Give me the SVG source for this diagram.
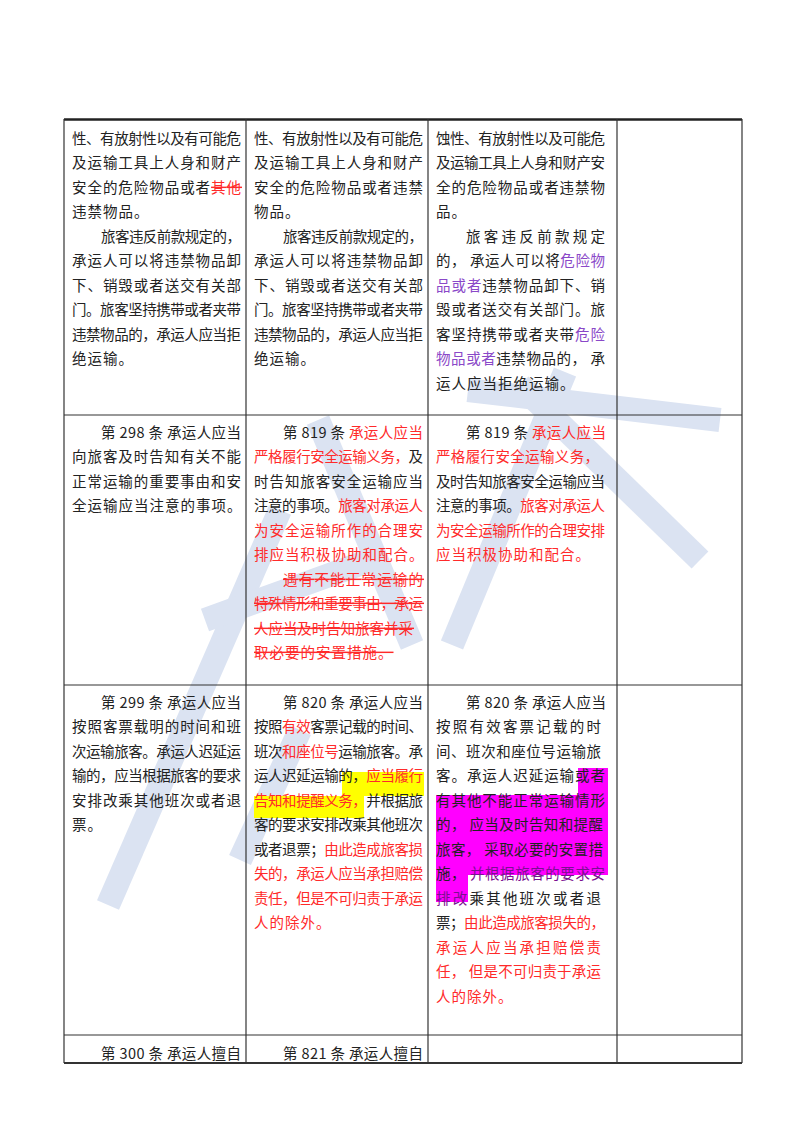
<svg xmlns="http://www.w3.org/2000/svg" width="800" height="1132" viewBox="0 0 800 1132">
<style>
text{font-family:"Noto Sans CJK SC","Noto Sans CJK JP",sans-serif;font-size:14.5px;fill:#222;letter-spacing:1px}
.r{fill:#ff2a2a}
.p{fill:#8a48c8}
.s{text-decoration:line-through}
.m{fill:#7a1090}
.wm{stroke:#dbe3f2;stroke-width:24;fill:none;stroke-linecap:butt}
.g{stroke:#333;stroke-width:1.2}
</style>
<rect width="800" height="1132" fill="#fff"/>
<g id="watermark">
<line class="wm" x1="280" y1="510" x2="108" y2="905"/>
<line class="wm" x1="205" y1="620" x2="385" y2="555"/>
<line class="wm" x1="318" y1="420" x2="412" y2="645"/>
<line class="wm" x1="565" y1="372" x2="452" y2="645"/>
<line class="wm" x1="468" y1="390" x2="720" y2="420"/>
<line class="wm" x1="520" y1="385" x2="700" y2="560"/>
<line class="wm" x1="300" y1="730" x2="240" y2="860"/>
</g>
<g id="highlights">
<rect x="342" y="772" width="82" height="24" fill="#ffff00"/>
<rect x="254" y="796" width="110" height="22" fill="#ffff00"/>
<rect x="578" y="768" width="30" height="27" fill="#ff00ff"/>
<rect x="436" y="795" width="172" height="80" fill="#ff00ff"/>
<rect x="436" y="875" width="32" height="27" fill="#ff00ff"/>
</g>
<g id="grid">
<line x1="64" y1="119.5" x2="742" y2="119.5" stroke="#222" stroke-width="2.5"/>
<line class="g" x1="64" y1="119" x2="64" y2="1063"/>
<line class="g" x1="246" y1="119" x2="246" y2="1063"/>
<line class="g" x1="428" y1="119" x2="428" y2="1063"/>
<line class="g" x1="617" y1="119" x2="617" y2="1063"/>
<line class="g" x1="742" y1="119" x2="742" y2="1063"/>
<line class="g" x1="64" y1="415" x2="742" y2="415"/>
<line class="g" x1="64" y1="685" x2="742" y2="685"/>
<line class="g" x1="64" y1="1035" x2="742" y2="1035"/>
<line x1="64" y1="1063" x2="742" y2="1063" stroke="#333" stroke-width="2"/>
</g>
<g id="c11">
<text x="72" y="144" textLength="170" lengthAdjust="spacing">性、有放射性以及有可能危</text>
<text x="72" y="168" textLength="170" lengthAdjust="spacing">及运输工具上人身和财产</text>
<text x="72" y="193" textLength="170" lengthAdjust="spacing">安全的危险物品或者<tspan class="r s">其他</tspan></text>
<text x="72" y="217">违禁物品。</text>
<text x="101" y="242" textLength="141" lengthAdjust="spacing">旅客违反前款规定的，</text>
<text x="72" y="266" textLength="170" lengthAdjust="spacing">承运人可以将违禁物品卸</text>
<text x="72" y="291" textLength="170" lengthAdjust="spacing">下、销毁或者送交有关部</text>
<text x="72" y="315" textLength="170" lengthAdjust="spacing">门。旅客坚持携带或者夹带</text>
<text x="72" y="340" textLength="170" lengthAdjust="spacing">违禁物品的，承运人应当拒</text>
<text x="72" y="364">绝运输。</text>
</g>
<g id="c12">
<text x="254" y="144" textLength="170" lengthAdjust="spacing">性、有放射性以及有可能危</text>
<text x="254" y="168" textLength="170" lengthAdjust="spacing">及运输工具上人身和财产</text>
<text x="254" y="193" textLength="170" lengthAdjust="spacing">安全的危险物品或者违禁</text>
<text x="254" y="217">物品。</text>
<text x="283" y="242" textLength="141" lengthAdjust="spacing">旅客违反前款规定的，</text>
<text x="254" y="266" textLength="170" lengthAdjust="spacing">承运人可以将违禁物品卸</text>
<text x="254" y="291" textLength="170" lengthAdjust="spacing">下、销毁或者送交有关部</text>
<text x="254" y="315" textLength="170" lengthAdjust="spacing">门。旅客坚持携带或者夹带</text>
<text x="254" y="340" textLength="170" lengthAdjust="spacing">违禁物品的，承运人应当拒</text>
<text x="254" y="364">绝运输。</text>
</g>
<g id="c13">
<text x="436" y="144" textLength="170" lengthAdjust="spacing">蚀性、有放射性以及可能危</text>
<text x="436" y="168" textLength="170" lengthAdjust="spacing">及运输工具上人身和财产安</text>
<text x="436" y="193" textLength="170" lengthAdjust="spacing">全的危险物品或者违禁物</text>
<text x="436" y="217">品。</text>
<text x="466" y="242" textLength="140" lengthAdjust="spacing">旅客违反前款规定</text>
<text x="436" y="266" textLength="170" lengthAdjust="spacing">的， 承运人可以将<tspan class="p">危险物</tspan></text>
<text x="436" y="291" textLength="170" lengthAdjust="spacing"><tspan class="p">品或者</tspan>违禁物品卸下、销</text>
<text x="436" y="315" textLength="170" lengthAdjust="spacing">毁或者送交有关部门。旅</text>
<text x="436" y="340" textLength="170" lengthAdjust="spacing">客坚持携带或者夹带<tspan class="p">危险</tspan></text>
<text x="436" y="364" textLength="170" lengthAdjust="spacing"><tspan class="p">物品或者</tspan>违禁物品的， 承</text>
<text x="436" y="389">运人应当拒绝运输。</text>
</g>
<g id="c21">
<text x="101" y="438" textLength="141" lengthAdjust="spacing">第 298 条 承运人应当</text>
<text x="72" y="462" textLength="170" lengthAdjust="spacing">向旅客及时告知有关不能</text>
<text x="72" y="487" textLength="170" lengthAdjust="spacing">正常运输的重要事由和安</text>
<text x="72" y="511">全运输应当注意的事项。</text>
</g>
<g id="c22">
<text x="283" y="438" textLength="141" lengthAdjust="spacing">第 819 条 <tspan class="r">承运人应当</tspan></text>
<text x="254" y="462" textLength="170" lengthAdjust="spacing"><tspan class="r">严格履行安全运输义务，</tspan>及</text>
<text x="254" y="487" textLength="170" lengthAdjust="spacing">时告知旅客安全运输应当</text>
<text x="254" y="511" textLength="170" lengthAdjust="spacing">注意的事项。<tspan class="r">旅客对承运人</tspan></text>
<text x="254" y="536" textLength="170" lengthAdjust="spacing" class="r">为安全运输所作的合理安</text>
<text x="254" y="560" class="r">排应当积极协助和配合。</text>
<text x="283" y="585" textLength="141" lengthAdjust="spacing" class="r s">遇有不能正常运输的</text>
<text x="254" y="609" textLength="170" lengthAdjust="spacing" class="r s">特殊情形和重要事由，承运</text>
<text x="254" y="634" textLength="160" lengthAdjust="spacing" class="r s">人应当及时告知旅客并采</text>
<text x="254" y="658" class="r s">取必要的安置措施。</text>
</g>
<g id="c23">
<text x="466" y="438" textLength="141" lengthAdjust="spacing">第 819 条 <tspan class="r">承运人应当</tspan></text>
<text x="436" y="462" textLength="164" lengthAdjust="spacing" class="r">严格履行安全运输义务，</text>
<text x="436" y="487" textLength="170" lengthAdjust="spacing">及时告知旅客安全运输应当</text>
<text x="436" y="511" textLength="170" lengthAdjust="spacing">注意的事项。<tspan class="r">旅客对承运人</tspan></text>
<text x="436" y="536" textLength="170" lengthAdjust="spacing" class="r">为安全运输所作的合理安排</text>
<text x="436" y="560" class="r">应当积极协助和配合。</text>
</g>
<g id="c31">
<text x="101" y="708" textLength="141" lengthAdjust="spacing">第 299 条 承运人应当</text>
<text x="72" y="732" textLength="170" lengthAdjust="spacing">按照客票载明的时间和班</text>
<text x="72" y="757" textLength="170" lengthAdjust="spacing">次运输旅客。承运人迟延运</text>
<text x="72" y="781" textLength="170" lengthAdjust="spacing">输的，应当根据旅客的要求</text>
<text x="72" y="806" textLength="170" lengthAdjust="spacing">安排改乘其他班次或者退</text>
<text x="72" y="830">票。</text>
</g>
<g id="c32">
<text x="283" y="708" textLength="141" lengthAdjust="spacing">第 820 条 承运人应当</text>
<text x="254" y="732" textLength="170" lengthAdjust="spacing">按照<tspan class="r">有效</tspan>客票记载的时间、</text>
<text x="254" y="757" textLength="170" lengthAdjust="spacing">班次<tspan class="r">和座位号</tspan>运输旅客。承</text>
<text x="254" y="781" textLength="170" lengthAdjust="spacing">运人迟延运输的，<tspan class="r">应当履行</tspan></text>
<text x="254" y="806" textLength="170" lengthAdjust="spacing"><tspan class="r">告知和提醒义务，</tspan>并根据旅</text>
<text x="254" y="830" textLength="170" lengthAdjust="spacing">客的要求安排改乘其他班次</text>
<text x="254" y="855" textLength="170" lengthAdjust="spacing">或者退票；<tspan class="r">由此造成旅客损</tspan></text>
<text x="254" y="879" textLength="170" lengthAdjust="spacing" class="r">失的，承运人应当承担赔偿</text>
<text x="254" y="904" textLength="170" lengthAdjust="spacing" class="r">责任，但是不可归责于承运</text>
<text x="254" y="928" class="r">人的除外。</text>
</g>
<g id="c33">
<text x="466" y="708" textLength="141" lengthAdjust="spacing">第 820 条 承运人应当</text>
<text x="436" y="732" textLength="166" lengthAdjust="spacing">按照有效客票记载的时</text>
<text x="436" y="757" textLength="166" lengthAdjust="spacing">间、班次和座位号运输旅</text>
<text x="436" y="781" textLength="170" lengthAdjust="spacing">客。承运人迟延运输或者</text>
<text x="436" y="806" textLength="170" lengthAdjust="spacing">有其他不能正常运输情形</text>
<text x="436" y="830" textLength="168" lengthAdjust="spacing">的， 应当及时告知和提醒</text>
<text x="436" y="855" textLength="168" lengthAdjust="spacing">旅客， 采取必要的安置措</text>
<text x="436" y="879" textLength="170" lengthAdjust="spacing">施， <tspan class="m">并根据旅客的要求安</tspan></text>
<text x="436" y="904" textLength="166" lengthAdjust="spacing"><tspan class="m">排改</tspan>乘其他班次或者退</text>
<text x="436" y="928" textLength="170" lengthAdjust="spacing">票；<tspan class="r">由此造成旅客损失的，</tspan></text>
<text x="436" y="953" textLength="166" lengthAdjust="spacing" class="r">承运人应当承担赔偿责</text>
<text x="436" y="977" textLength="166" lengthAdjust="spacing" class="r">任， 但是不可归责于承运</text>
<text x="436" y="1002" class="r">人的除外。</text>
</g>
<g id="c41">
<text x="101" y="1059" textLength="141" lengthAdjust="spacing">第 300 条 承运人擅自</text>
</g>
<g id="c42">
<text x="283" y="1059" textLength="141" lengthAdjust="spacing">第 821 条 承运人擅自</text>
</g>
</svg>
